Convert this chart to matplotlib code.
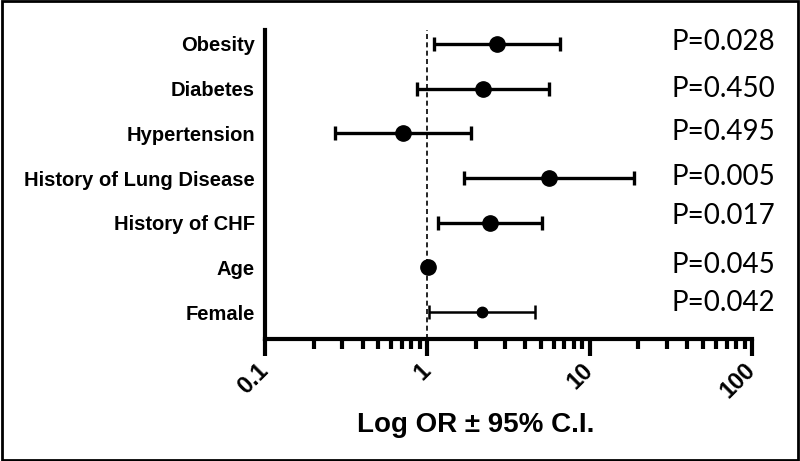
import matplotlib
matplotlib.use("Agg")
import matplotlib.pyplot as plt
from matplotlib.patches import Rectangle
from matplotlib.ticker import LogLocator, FixedLocator, NullFormatter
import numpy as np

categories = ["Obesity", "Diabetes", "Hypertension", "History of Lung Disease",
              "History of CHF", "Age", "Female"]
odds_ratio = [2.70, 2.21, 0.71, 5.65, 2.44, 1.01, 2.18]
ci_low = [1.10, 0.87, 0.27, 1.69, 1.17, 0.99, 1.03]
ci_high = [6.6, 5.65, 1.87, 18.8, 5.1, 1.03, 4.6]
p_labels = ["P=0.028", "P=0.450", "P=0.495", "P=0.005", "P=0.017", "P=0.045", "P=0.042"]
p_offsets = [0.03, 0.0, 0.03, 0.03, 0.15, 0.05, 0.2]
x_ticks = [0.1, 1, 10, 100]
x_tick_labels = ["0.1", "1", "10", "100"]

fig = plt.figure(figsize=(8, 4.61), dpi=100)
ax = fig.add_axes([0.331, 0.2646, 0.609, 0.6704])

ypos = np.arange(len(categories))
msizes = [11, 11, 11, 11, 11, 11, 7.5]
lws = [2.4, 2.4, 2.4, 2.4, 2.4, 2.4, 1.8]
for i in range(len(categories)):
    ax.errorbar(odds_ratio[i], ypos[i],
                xerr=[[odds_ratio[i] - ci_low[i]], [ci_high[i] - odds_ratio[i]]],
                fmt='o', color='black', ms=msizes[i], elinewidth=lws[i],
                capsize=5, capthick=lws[i], zorder=3)

ax.axvline(1, color='black', lw=1.2, ls=(0, (3, 2)), zorder=1)

ax.set_xscale('log')
ax.set_xlim(0.1, 100)
ax.set_ylim(len(categories) - 1 + 0.6, -0.31)
ax.set_yticks(ypos)
ax.set_yticklabels(categories, fontsize=14.5, fontweight='bold', family='Liberation Sans')
ax.tick_params(axis='y', length=0, pad=7)

ax.xaxis.set_major_locator(FixedLocator(x_ticks))
ax.set_xticklabels(x_tick_labels, fontsize=17, fontweight='bold', family='Liberation Sans',
                   rotation=45, ha='right', va='center', rotation_mode='anchor')
ax.xaxis.set_minor_locator(LogLocator(base=10, subs=np.arange(2, 10)))
ax.xaxis.set_minor_formatter(NullFormatter())
ax.tick_params(axis='x', which='major', length=12, width=3, pad=8)
ax.tick_params(axis='x', which='minor', length=7, width=3)

for s in ['top', 'right']:
    ax.spines[s].set_visible(False)
for s in ['left', 'bottom']:
    ax.spines[s].set_linewidth(3)

ax.set_xlabel("Log OR ± 95% C.I.", fontsize=20, fontweight='bold', family='Liberation Sans')
ax.xaxis.set_label_coords(0.432, -0.235)

for i, lab in enumerate(p_labels):
    ax.text(1.047, ypos[i] - p_offsets[i], lab, transform=ax.get_yaxis_transform(),
            fontsize=20, family='Lato', ha='right', va='center')

fig.patches.append(Rectangle((0.002, 0.003), 0.996, 0.994, transform=fig.transFigure,
                             fill=False, edgecolor='black', lw=2))

fig.savefig("out.png", dpi=100)
